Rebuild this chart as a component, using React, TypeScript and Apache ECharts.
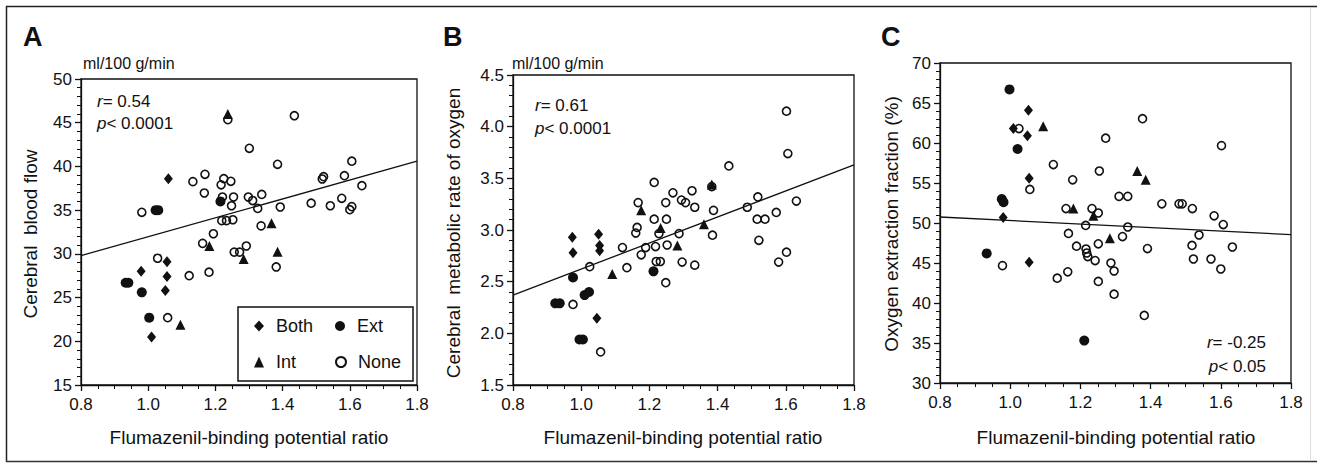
import React, { useEffect, useRef } from "react";
import * as echarts from "echarts";

// ---------- DATA ----------
const xTicks = [0.8, 1.0, 1.2, 1.4, 1.6, 1.8];

// Panel A: Cerebral blood flow (ml/100 g/min)
const aBoth = [[1.060, 38.6], [1.056, 29.1], [1.056, 27.4], [1.051, 25.8], [1.010, 20.5], [0.979, 28.0]];
const aExt = [[0.933, 26.7], [0.941, 26.7], [0.981, 25.6], [1.003, 22.7], [1.022, 35.0], [1.030, 35.0], [1.215, 36.0]];
const aInt = [[1.237, 46.0], [1.182, 30.9], [1.284, 29.4], [1.367, 33.5], [1.385, 30.25], [1.096, 21.9]];
const aNone = [
  [1.237, 45.35], [1.435, 45.8], [1.301, 42.07], [1.385, 40.24], [1.606, 40.6], [1.636, 37.8],
  [1.584, 38.94], [1.522, 38.83], [1.518, 38.56], [1.576, 36.35], [1.542, 35.5], [1.485, 35.8],
  [1.606, 35.4], [1.600, 35.05], [1.393, 35.36], [1.338, 36.8], [1.326, 35.2], [1.311, 36.1],
  [1.298, 36.5], [1.336, 33.2], [1.254, 36.5], [1.248, 35.5], [1.246, 38.3], [1.225, 38.6],
  [1.217, 37.9], [1.221, 36.5], [1.169, 39.1], [1.167, 36.96], [1.133, 38.26], [0.981, 34.75],
  [1.028, 29.5], [1.058, 22.7], [1.122, 27.5], [1.181, 27.9], [1.194, 32.3], [1.162, 31.2],
  [1.219, 33.8], [1.233, 33.8], [1.252, 33.9], [1.256, 30.2], [1.272, 30.2], [1.292, 30.9],
  [1.381, 28.5],
];
const aFit = [[0.8, 29.8], [1.8, 40.6]];

// Panel B: Cerebral metabolic rate of oxygen (ml/100 g/min)
const bBoth = [[0.974, 2.93], [0.976, 2.78], [1.051, 2.96], [1.054, 2.85], [1.054, 2.80], [1.046, 2.145]];
const bExt = [[0.976, 2.54], [1.010, 2.37], [1.023, 2.40], [0.924, 2.29], [0.937, 2.29], [0.995, 1.94], [1.005, 1.94], [1.212, 2.60]];
const bInt = [[1.176, 3.19], [1.233, 3.02], [1.282, 2.85], [1.360, 3.055], [1.383, 3.44], [1.091, 2.575]];
const bNone = [
  [1.602, 4.15], [1.606, 3.74], [1.433, 3.62], [1.214, 3.46], [1.269, 3.36], [1.325, 3.38],
  [1.294, 3.29], [1.306, 3.265], [1.333, 3.22], [1.248, 3.265], [1.167, 3.265], [1.383, 3.42],
  [1.388, 3.19], [1.385, 2.95], [1.487, 3.22], [1.518, 3.32], [1.516, 3.105], [1.539, 3.105],
  [1.572, 3.17], [1.631, 3.28], [1.521, 2.90], [1.602, 2.785], [1.579, 2.69], [1.214, 3.105],
  [1.250, 3.105], [1.164, 3.025], [1.160, 2.97], [1.228, 2.965], [1.287, 2.965], [1.121, 2.83],
  [1.189, 2.83], [1.218, 2.84], [1.252, 2.855], [1.176, 2.76], [1.220, 2.695], [1.232, 2.695],
  [1.296, 2.69], [1.333, 2.66], [1.134, 2.635], [1.248, 2.49], [1.025, 2.645], [0.976, 2.28],
  [1.057, 1.82],
];
const bFit = [[0.8, 2.37], [1.8, 3.63]];

// Panel C: Oxygen extraction fraction (%)
const cBoth = [[1.052, 64.1], [1.009, 61.8], [1.049, 60.9], [1.054, 55.6], [0.980, 50.7], [1.054, 45.1]];
const cExt = [[0.998, 66.7], [1.021, 59.25], [0.976, 53.0], [0.981, 52.6], [0.933, 46.2], [1.211, 35.3]];
const cInt = [[1.094, 62.1], [1.362, 56.5], [1.386, 55.4], [1.180, 51.8], [1.284, 48.1], [1.237, 50.9]];
const cNone = [
  [1.025, 61.8], [1.056, 54.2], [0.978, 44.67], [1.377, 63.04], [1.272, 60.6], [1.602, 59.67],
  [1.123, 57.3], [1.254, 56.5], [1.178, 55.4], [1.310, 53.33], [1.335, 53.33], [1.432, 52.4],
  [1.481, 52.4], [1.490, 52.4], [1.519, 51.8], [1.159, 51.8], [1.233, 51.8], [1.251, 51.25],
  [1.581, 50.9], [1.607, 49.8], [1.215, 49.7], [1.335, 49.5], [1.320, 48.3], [1.166, 48.7],
  [1.538, 48.5], [1.189, 47.1], [1.216, 46.75], [1.218, 46.25], [1.221, 45.8], [1.242, 45.3],
  [1.251, 47.4], [1.391, 46.8], [1.518, 47.2], [1.633, 47.0], [1.522, 45.5], [1.572, 45.5],
  [1.600, 44.25], [1.287, 45.0], [1.296, 44.0], [1.164, 43.9], [1.134, 43.1], [1.251, 42.7],
  [1.296, 41.1], [1.382, 38.45],
];
const cFit = [[0.8, 50.75], [1.8, 48.55]];

const groupNames = ["Both", "Ext", "Int", "None"];

// ---------- STYLE ----------
const FONT = "'Liberation Sans', Arial, sans-serif";
const INK = "#111";

const symbolFor: Record<string, any> = {
  Both: { symbol: "diamond", symbolSize: [9, 11], itemStyle: { color: INK, opacity: 1 } },
  Ext: { symbol: "circle", symbolSize: 10, itemStyle: { color: INK, opacity: 1 } },
  Int: { symbol: "triangle", symbolSize: 10, itemStyle: { color: INK, opacity: 1 } },
  None: {
    symbol: "circle",
    symbolSize: 8,
    itemStyle: { color: "rgba(255,255,255,0)", borderColor: INK, borderWidth: 1.6, opacity: 1 },
  },
};

export default function App() {
  const ref = useRef<HTMLDivElement>(null);
  useEffect(() => {
    if (!ref.current) return;
    const chart = echarts.init(ref.current, null, { renderer: "svg" });

    const grids = [
      { left: 81, top: 79, width: 336, height: 306 },
      { left: 513, top: 75, width: 341, height: 310 },
      { left: 940, top: 63, width: 351, height: 320 },
    ];
    const yCfg = [
      { min: 15, max: 50, interval: 5, dec: 0 },
      { min: 1.5, max: 4.5, interval: 0.5, dec: 1 },
      { min: 30, max: 70, interval: 5, dec: 0 },
    ];
    const panels = [
      { Both: aBoth, Ext: aExt, Int: aInt, None: aNone, fit: aFit },
      { Both: bBoth, Ext: bExt, Int: bInt, None: bNone, fit: bFit },
      { Both: cBoth, Ext: cExt, Int: cInt, None: cNone, fit: cFit },
    ];

    const axisCommon = {
      axisLine: { show: true, lineStyle: { color: INK, width: 1.3 } },
      axisTick: { show: true, length: 6, lineStyle: { color: INK, width: 1.3 } },
      minorTick: { show: true, length: 4, lineStyle: { color: INK, width: 1 } },
      splitLine: { show: false },
    };

    const xAxis = grids.map((_, i) => ({
      type: "value",
      gridIndex: i,
      min: xTicks[0],
      max: xTicks[xTicks.length - 1],
      interval: 0.2,
      ...axisCommon,
      minorTick: { ...axisCommon.minorTick, splitNumber: 4 },
      axisLabel: {
        color: INK,
        fontFamily: FONT,
        fontSize: 17,
        margin: 11,
        formatter: (v: number) => v.toFixed(1),
      },
    }));
    const yAxis = yCfg.map((c, i) => ({
      type: "value",
      gridIndex: i,
      min: c.min,
      max: c.max,
      interval: c.interval,
      ...axisCommon,
      minorTick: { ...axisCommon.minorTick, splitNumber: 5 },
      axisLabel: {
        color: INK,
        fontFamily: FONT,
        fontSize: 17,
        margin: 9,
        formatter: (v: number) => v.toFixed(c.dec),
      },
    }));

    const series: any[] = [];
    panels.forEach((p: any, i) => {
      series.push({
        type: "line",
        name: "fit" + i,
        xAxisIndex: i,
        yAxisIndex: i,
        data: p.fit,
        symbol: "none",
        lineStyle: { color: INK, width: 1.3 },
        silent: true,
        z: 1,
      });
      groupNames.forEach((g) => {
        series.push({
          type: "scatter",
          name: g,
          xAxisIndex: i,
          yAxisIndex: i,
          data: p[g],
          ...symbolFor[g],
          z: g === "None" ? 2 : 3,
        });
      });
    });

    const legendPos = [
      { name: "Both", left: 254, top: 317 },
      { name: "Ext", left: 335, top: 317 },
      { name: "Int", left: 254, top: 353 },
      { name: "None", left: 335, top: 353 },
    ];
    const legend = legendPos.map((l) => ({
      data: [l.name],
      left: l.left,
      top: l.top,
      padding: 0,
      itemWidth: 10,
      itemHeight: 11,
      selectedMode: false,
      z: 20,
      textStyle: { color: INK, fontFamily: FONT, fontSize: 18, padding: [0, 0, 0, 7] },
    }));

    const txt = (x: number, y: number, text: string, o: any = {}) => ({
      type: "text",
      x,
      y,
      rotation: o.rotation || 0,
      silent: true,
      style: {
        text,
        fill: INK,
        font: o.font || `17px ${FONT}`,
        textAlign: o.align || "left",
        textVerticalAlign: "middle",
        rich: o.rich,
      },
    });
    const italicRich = {
      i: { fontStyle: "italic", fontFamily: FONT, fontSize: 17, fill: INK },
      n: { fontFamily: FONT, fontSize: 17, fill: INK },
    };

    const graphic: any[] = [
      // outer frame
      { type: "line", shape: { x1: 6, y1: 6.5, x2: 1317, y2: 6.5 }, style: { stroke: "#222", lineWidth: 1.5 } },
      { type: "line", shape: { x1: 6.5, y1: 6, x2: 6.5, y2: 462 }, style: { stroke: "#222", lineWidth: 1.5 } },
      { type: "line", shape: { x1: 6, y1: 461.5, x2: 1317, y2: 461.5 }, style: { stroke: "#333", lineWidth: 1.5 } },
      { type: "line", shape: { x1: 1310.5, y1: 8, x2: 1310.5, y2: 461 }, style: { stroke: "#ddd", lineWidth: 1 } },
      // legend box
      {
        type: "rect",
        shape: { x: 238, y: 307, width: 175, height: 74 },
        style: { fill: "none", stroke: INK, lineWidth: 1.5 },
      },
      // panel letters
      txt(23, 37, "A", { font: `bold 27px ${FONT}` }),
      txt(443, 37, "B", { font: `bold 27px ${FONT}` }),
      txt(881, 37, "C", { font: `bold 27px ${FONT}` }),
      // units
      txt(83, 63, "ml/100 g/min", { font: `16px ${FONT}` }),
      txt(512, 63, "ml/100 g/min", { font: `16px ${FONT}` }),
      // stats
      txt(97, 101, "{i|r}{n|= 0.54}", { rich: italicRich }),
      txt(97, 123, "{i|p}{n|< 0.0001}", { rich: italicRich }),
      txt(535, 105, "{i|r}{n|= 0.61}", { rich: italicRich }),
      txt(535, 128, "{i|p}{n|< 0.0001}", { rich: italicRich }),
      txt(1266, 342, "{i|r}{n|= -0.25}", { rich: italicRich, align: "right" }),
      txt(1266, 366, "{i|p}{n|< 0.05}", { rich: italicRich, align: "right" }),
      // x titles
      txt(249, 437, "Flumazenil-binding potential ratio", { font: `19px ${FONT}`, align: "center" }),
      txt(683, 437, "Flumazenil-binding potential ratio", { font: `19px ${FONT}`, align: "center" }),
      txt(1116, 437, "Flumazenil-binding potential ratio", { font: `19px ${FONT}`, align: "center" }),
      // y titles
      txt(30, 234, "Cerebral  blood flow", { font: `19px ${FONT}`, align: "center", rotation: Math.PI / 2 }),
      txt(453, 233, "Cerebral  metabolic rate of oxygen", { font: `19px ${FONT}`, align: "center", rotation: Math.PI / 2 }),
      txt(891, 224, "Oxygen extraction fraction (%)", { font: `19px ${FONT}`, align: "center", rotation: Math.PI / 2 }),
    ];

    chart.setOption({
      animation: false,
      backgroundColor: "#fff",
      grid: grids.map((g) => ({ ...g, show: true, borderColor: INK, borderWidth: 1.3, backgroundColor: "transparent" })),
      xAxis,
      yAxis,
      series,
      legend,
      graphic,
    });
    return () => chart.dispose();
  }, []);

  return <div ref={ref} style={{ position: "absolute", left: 0, top: 0, width: 1317, height: 464 }} />;
}
